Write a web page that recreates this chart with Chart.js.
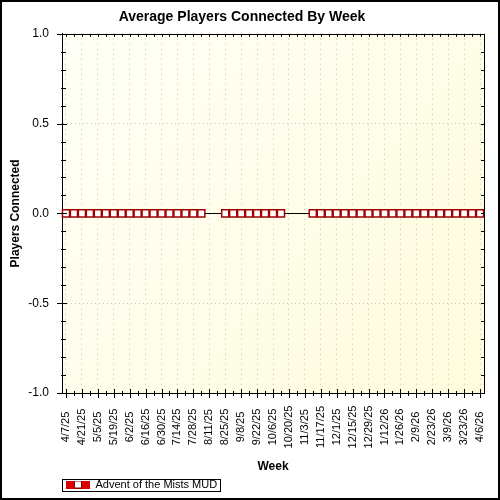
<!DOCTYPE html>
<html>
<head>
<meta charset="utf-8">
<title>Average Players Connected By Week</title>
<script src="https://cdn.jsdelivr.net/npm/chart.js@4.4.1/dist/chart.umd.min.js"></script>
<style>
  html, body { margin: 0; padding: 0; background: #fff; }
  #wrap { width: 500px; height: 500px; }
</style>
</head>
<body>
<div id="wrap"><canvas id="playersChart" width="500" height="500"></canvas></div>
<script>
// weekly categories (labels shown every 2nd week)
const weeks = [
  '4/7/25', '4/14/25', '4/21/25', '4/28/25', '5/5/25', '5/12/25', '5/19/25', '5/26/25',
  '6/2/25', '6/9/25', '6/16/25', '6/23/25', '6/30/25', '7/7/25', '7/14/25', '7/21/25',
  '7/28/25', '8/4/25', '8/11/25', '8/18/25', '8/25/25', '9/1/25', '9/8/25', '9/15/25',
  '9/22/25', '9/29/25', '10/6/25', '10/13/25', '10/20/25', '10/27/25', '11/3/25', '11/10/25',
  '11/17/25', '11/24/25', '12/1/25', '12/8/25', '12/15/25', '12/22/25', '12/29/25', '1/5/26',
  '1/12/26', '1/19/26', '1/26/26', '2/2/26', '2/9/26', '2/16/26', '2/23/26', '3/2/26',
  '3/9/26', '3/16/26', '3/23/26', '3/30/26', '4/6/26'
];

// average players per week (null = no data that week)
const adventPlayers = [
  0, 0, 0, 0, 0, 0, 0, 0, 0, 0, 0, 0, 0, 0, 0, 0, 0, 0,
  null, null,
  0, 0, 0, 0, 0, 0, 0, 0,
  null, null, null,
  0, 0, 0, 0, 0, 0, 0, 0, 0, 0, 0, 0, 0, 0, 0, 0, 0, 0, 0, 0, 0, 0
];

const yTicks = [-1, -0.5, 0, 0.5, 1];
const yMinorStep = 0.1;

const FONT = 'Arial, "Liberation Sans", sans-serif';
Chart.defaults.font.family = FONT;
Chart.defaults.color = '#000';

// legend symbol: red line with a white square marker
const legendSymbol = document.createElement('canvas');
legendSymbol.width = 24;
legendSymbol.height = 8;
(function() {
  const c = legendSymbol.getContext('2d');
  c.fillStyle = '#dd0000';
  c.fillRect(0, 0, 24, 8);
  c.fillStyle = '#fff';
  c.fillRect(9, 1, 6, 6);
  c.strokeStyle = '#8b0000';
  c.lineWidth = 1;
  c.strokeRect(8.5, 0.5, 7, 7);
})();

// ===== background, zero line, tick marks, rotated week labels, borders =====
const framePlugin = {
  id: 'frame',
  beforeDraw(chart) {
    const { ctx, chartArea: a } = chart;
    ctx.save();
    ctx.fillStyle = '#fff';
    ctx.fillRect(0, 0, chart.width, chart.height);
    const g = ctx.createLinearGradient(a.left, a.top, a.right, a.bottom);
    g.addColorStop(0, '#fffff6');
    g.addColorStop(1, '#fffbdc');
    ctx.fillStyle = g;
    ctx.fillRect(a.left, a.top, a.right - a.left, a.bottom - a.top);
    ctx.restore();
    // legend sits under the plot's left edge
    chart.legend.left = 62;
  },
  beforeDatasetsDraw(chart) {
    const { ctx, chartArea: a } = chart;
    const y0 = Math.round(chart.scales.y.getPixelForValue(0)) + 0.5;
    ctx.save();
    ctx.strokeStyle = '#000';
    ctx.lineWidth = 1;
    ctx.beginPath();
    ctx.moveTo(a.left, y0);
    ctx.lineTo(a.right, y0);
    ctx.stroke();
    ctx.restore();
  },
  afterDraw(chart) {
    const { ctx, chartArea: a } = chart;
    const xs = chart.scales.x, ys = chart.scales.y;
    ctx.save();
    ctx.strokeStyle = '#000';
    ctx.lineWidth = 1;
    ctx.beginPath();
    // top / right plot border
    ctx.moveTo(a.left, Math.round(a.top) + 0.5);
    ctx.lineTo(a.right, Math.round(a.top) + 0.5);
    ctx.moveTo(Math.round(a.right) + 0.5, a.top);
    ctx.lineTo(Math.round(a.right) + 0.5, a.bottom);
    // x ticks
    weeks.forEach((w, i) => {
      const px = Math.round(xs.getPixelForTick(i)) + 0.5;
      const major = i % 2 === 0;
      ctx.moveTo(px, a.bottom - (major ? 4 : 2));
      ctx.lineTo(px, a.bottom + (major ? 5 : 3));
      ctx.moveTo(px, a.top);
      ctx.lineTo(px, a.top + 3);
    });
    // y ticks
    const nMinor = Math.round((yTicks[yTicks.length - 1] - yTicks[0]) / yMinorStep);
    for (let k = 0; k <= nMinor; k++) {
      const v = yTicks[0] + k * yMinorStep;
      const py = Math.round(ys.getPixelForValue(v)) + 0.5;
      const major = k % 5 === 0;
      ctx.moveTo(a.left - (major ? 5 : 1), py);
      ctx.lineTo(a.left + (major ? 5 : 4), py);
      ctx.moveTo(a.right - 3, py);
      ctx.lineTo(a.right, py);
    }
    ctx.stroke();

    // rotated week labels, centred under the ticks
    ctx.fillStyle = '#000';
    ctx.font = '11px ' + FONT;
    ctx.textAlign = 'center';
    ctx.textBaseline = 'middle';
    weeks.forEach((w, i) => {
      if (i % 2) return;
      ctx.save();
      ctx.translate(xs.getPixelForTick(i), 427);
      ctx.rotate(-Math.PI / 2);
      ctx.fillText(w, 0, 0);
      ctx.restore();
    });

    // legend box round the single entry
    const lg = chart.legend;
    const item = lg.legendItems && lg.legendItems[0];
    if (item) {
      ctx.font = '11px ' + FONT;
      const tw = ctx.measureText(item.text).width;
      const right = lg.left + 4 + 24 + 5.5 + tw + 3;
      ctx.strokeRect(62.5, 479.5, Math.round(right - 62), 12);
    }

    // outer frame
    ctx.lineWidth = 2;
    ctx.strokeRect(1, 1, chart.width - 2, chart.height - 2);
    ctx.restore();
  }
};

const ctx = document.getElementById('playersChart');
new Chart(ctx, {
  type: 'line',
  data: {
    labels: weeks,
    datasets: [{
      label: 'Advent of the Mists MUD',
      data: adventPlayers,
      borderColor: '#a00000',
      borderWidth: 2,
      backgroundColor: '#fff',
      pointStyle: 'rect',
      pointRadius: 5,
      pointBackgroundColor: '#fff',
      pointBorderColor: '#a00000',
      pointBorderWidth: 1.5,
      spanGaps: false,
      tension: 0
    }]
  },
  options: {
    responsive: false,
    animation: false,
    devicePixelRatio: 1,
    layout: { padding: { left: 0, right: 16, top: 0, bottom: 0 } },
    plugins: {
      title: {
        display: true,
        text: 'Average Players Connected By Week',
        color: '#000',
        font: { size: 14, weight: 'bold' },
        padding: { top: 9, bottom: 8 }
      },
      legend: {
        position: 'bottom',
        align: 'start',
        labels: {
          usePointStyle: true,
          pointStyle: legendSymbol,
          pointStyleWidth: 24,
          padding: 4,
          color: '#000',
          font: { size: 11 }
        }
      },
      tooltip: { enabled: false }
    },
    scales: {
      x: {
        type: 'category',
        offset: true,
        afterFit: s => { s.height = 82; },
        grid: {
          offset: false,
          drawTicks: false,
          color: c => (c.index % 2 === 0 ? '#c4c4c4' : 'rgba(0,0,0,0)')
        },
        border: { color: '#000', width: 1, dash: [1, 4] },
        ticks: { display: false, autoSkip: false },
        title: {
          display: true,
          text: 'Week',
          color: '#000',
          font: { size: 12, weight: 'bold' },
          padding: { top: 0, bottom: 1 }
        }
      },
      y: {
        min: yTicks[0],
        max: yTicks[yTicks.length - 1],
        afterFit: s => { s.width = 62; },
        afterBuildTicks: s => { s.ticks = yTicks.map(v => ({ value: v })); },
        grid: {
          drawTicks: false,
          color: c => (c.tick && Math.abs(c.tick.value) === 0.5 ? '#c4c4c4' : 'rgba(0,0,0,0)')
        },
        border: { color: '#000', width: 1, dash: [1, 3] },
        ticks: {
          padding: 13,
          color: '#000',
          font: { size: 12 },
          callback: v => Number(v).toFixed(1)
        },
        title: {
          display: true,
          text: 'Players Connected',
          color: '#000',
          font: { size: 12, weight: 'bold' },
          padding: { top: 8, bottom: 0 }
        }
      }
    }
  },
  plugins: [framePlugin]
});
</script>
</body>
</html>
